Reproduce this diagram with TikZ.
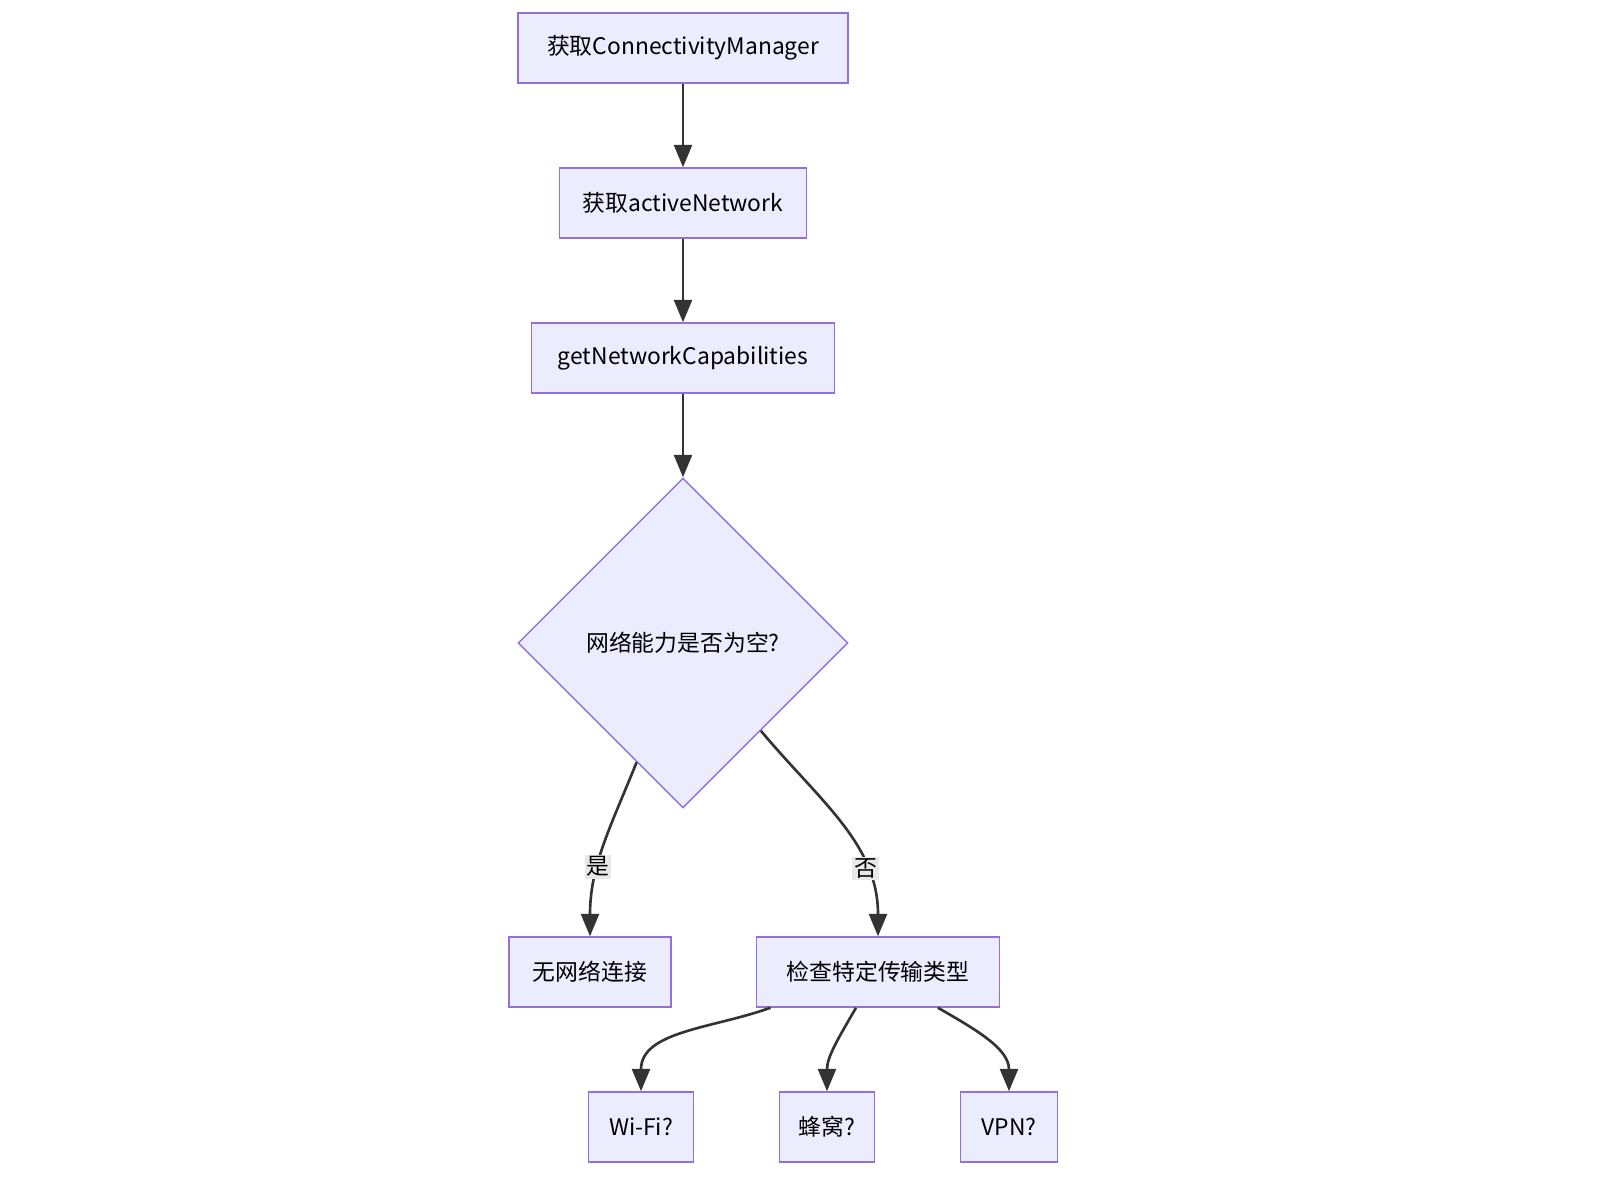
\documentclass[tikz,border=0pt]{standalone}
\usepackage{fontspec}
\setmainfont{Noto Sans CJK SC}
\usetikzlibrary{positioning, arrows.meta, shapes.geometric, calc}
\definecolor{boxfill}{HTML}{ECECFF}
\definecolor{boxline}{HTML}{9370DB}
\definecolor{edge}{HTML}{333333}
\definecolor{lblbg}{HTML}{E8E8E8}

\begin{document}
\begin{tikzpicture}[x=0.02cm, y=-0.02cm,
    box/.style={rectangle, draw=boxline, fill=boxfill, line width=0.8pt,
                minimum height=1.4cm, inner xsep=0.25cm, font=\fontsize{13}{15}\selectfont},
    decision/.style={diamond, draw=boxline, fill=boxfill, line width=0.8pt,
                minimum size=6.6cm, inner sep=0pt, font=\fontsize{13}{15}\selectfont},
    arrow/.style={-{Triangle[length=4.5mm, width=3.6mm]}, line width=1.5pt, draw=edge},
    elabel/.style={fill=lblbg, inner sep=1pt, font=\fontsize{13}{15}\selectfont}
]
    \useasboundingbox (0,0) rectangle (1600,1200);

    % Main chain
    \node[box, minimum width=6.6cm] (mgr) at (683,48) {获取ConnectivityManager};
    \node[box, minimum width=4.94cm] (active) at (683,203) {获取activeNetwork};
    \node[box, minimum width=6.06cm] (caps) at (683,358) {getNetworkCapabilities};
    \node[decision] (empty) at (683,643) {网络能力是否为空?};

    % Branches
    \node[box, minimum width=3.24cm] (none) at (590,972) {无网络连接};
    \node[box, minimum width=4.86cm] (check) at (878,972) {检查特定传输类型};

    % Transport types
    \node[box, minimum width=2.1cm] (wifi) at (641,1127) {Wi-Fi?};
    \node[box, minimum width=1.9cm] (cell) at (827,1127) {蜂窝?};
    \node[box, minimum width=1.94cm] (vpn) at (1009,1127) {VPN?};

    % Arrows
    \draw[arrow] (mgr) -- (active);
    \draw[arrow] (active) -- (caps);
    \draw[arrow] (caps) -- (empty);
    \draw[arrow] ($(empty.south)!0.28!(empty.west)$) to[out=-112, in=90]
        node[elabel, pos=0.62] {是} (none.north);
    \draw[arrow] ($(empty.south)!0.47!(empty.east)$) to[out=-50, in=90]
        node[elabel, pos=0.72] {否} (check.north);
    \draw[arrow] ($(check.south west)!0.06!(check.south east)$) to[out=-160, in=90] (wifi.north);
    \draw[arrow] ($(check.south west)!0.41!(check.south east)$) to[out=-120, in=90] (cell.north);
    \draw[arrow] ($(check.south west)!0.745!(check.south east)$) to[out=-30, in=90] (vpn.north);

\end{tikzpicture}
\end{document}
